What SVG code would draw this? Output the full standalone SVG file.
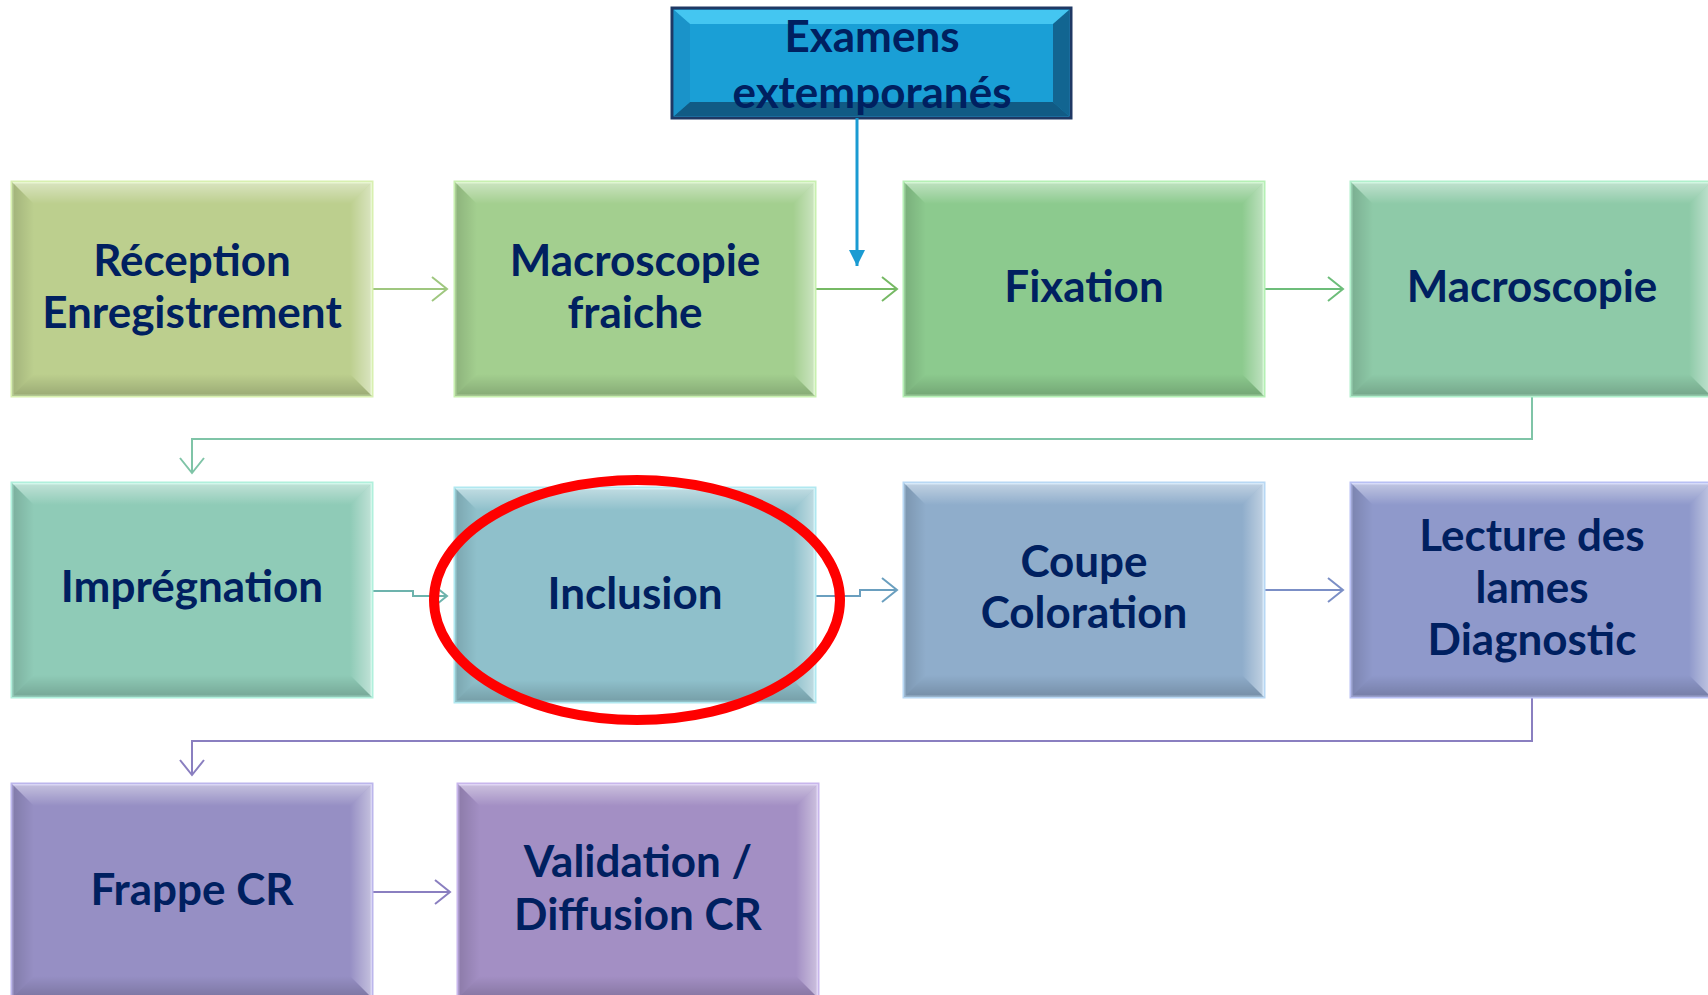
<svg xmlns="http://www.w3.org/2000/svg" width="1708" height="995" viewBox="0 0 1708 995">
<style>
.t{font-family:"Lato","Open Sans",sans-serif;font-weight:700;font-size:44px;fill:#002060;text-anchor:middle}
.box{stroke-width:3}
.c{fill:none;stroke-width:2}
</style>
<defs>
<linearGradient id="gT" x1="0" y1="0" x2="0" y2="1"><stop offset="0" stop-color="#fff" stop-opacity="0.45"/><stop offset="1" stop-color="#fff" stop-opacity="0"/></linearGradient>
<linearGradient id="gR" x1="1" y1="0" x2="0" y2="0"><stop offset="0" stop-color="#fff" stop-opacity="0.45"/><stop offset="1" stop-color="#fff" stop-opacity="0"/></linearGradient>
<linearGradient id="gB" x1="0" y1="1" x2="0" y2="0"><stop offset="0" stop-color="#000" stop-opacity="0.18"/><stop offset="1" stop-color="#000" stop-opacity="0"/></linearGradient>
<linearGradient id="gL" x1="0" y1="0" x2="1" y2="0"><stop offset="0" stop-color="#000" stop-opacity="0.14"/><stop offset="1" stop-color="#000" stop-opacity="0"/></linearGradient>
<g id="bevel">
<polygon points="0,0 360,0 338,22 22,22" fill="url(#gT)"/>
<polygon points="360,0 360,214 338,192 338,22" fill="url(#gR)"/>
<polygon points="0,214 360,214 338,192 22,192" fill="url(#gB)"/>
<polygon points="0,0 0,214 22,192 22,22" fill="url(#gL)"/>
</g>
<marker id="aG1" markerUnits="userSpaceOnUse" markerWidth="20" markerHeight="28" refX="18" refY="14" orient="auto"><path d="M3,2 L18,14 L3,26" fill="none" stroke="#9fc77f" stroke-width="2"/></marker>
<marker id="aG2" markerUnits="userSpaceOnUse" markerWidth="20" markerHeight="28" refX="18" refY="14" orient="auto"><path d="M3,2 L18,14 L3,26" fill="none" stroke="#76b964" stroke-width="2"/></marker>
<marker id="aG3" markerUnits="userSpaceOnUse" markerWidth="20" markerHeight="28" refX="18" refY="14" orient="auto"><path d="M3,2 L18,14 L3,26" fill="none" stroke="#6dbd7a" stroke-width="2"/></marker>
<marker id="aG4" markerUnits="userSpaceOnUse" markerWidth="20" markerHeight="28" refX="18" refY="14" orient="auto"><path d="M3,2 L18,14 L3,26" fill="none" stroke="#7fc4a7" stroke-width="2"/></marker>
<marker id="aT1" markerUnits="userSpaceOnUse" markerWidth="20" markerHeight="28" refX="18" refY="14" orient="auto"><path d="M3,2 L18,14 L3,26" fill="none" stroke="#6db3ad" stroke-width="2"/></marker>
<marker id="aT2" markerUnits="userSpaceOnUse" markerWidth="20" markerHeight="28" refX="18" refY="14" orient="auto"><path d="M3,2 L18,14 L3,26" fill="none" stroke="#6a9fbf" stroke-width="2"/></marker>
<marker id="aT3" markerUnits="userSpaceOnUse" markerWidth="20" markerHeight="28" refX="18" refY="14" orient="auto"><path d="M3,2 L18,14 L3,26" fill="none" stroke="#7b8fc6" stroke-width="2"/></marker>
<marker id="aP1" markerUnits="userSpaceOnUse" markerWidth="20" markerHeight="28" refX="18" refY="14" orient="auto"><path d="M3,2 L18,14 L3,26" fill="none" stroke="#8a7fc0" stroke-width="2"/></marker>
<marker id="aBl" markerUnits="userSpaceOnUse" markerWidth="18" markerHeight="18" refX="16" refY="8" orient="auto"><path d="M0,0 L16,8 L0,16 Z" fill="#1a9bd2"/></marker>
</defs>

<g id="connectors">
<path class="c" d="M372,289 H447" stroke="#9fc77f" marker-end="url(#aG1)"/>
<path class="c" d="M816,289 H897" stroke="#76b964" marker-end="url(#aG2)"/>
<path class="c" d="M1264,289 H1343" stroke="#6dbd7a" marker-end="url(#aG3)"/>
<path class="c" d="M1532,397 V439 H192 V473" stroke="#7fc4a7" marker-end="url(#aG4)"/>
<path class="c" d="M372,591 H413 V596 H447" stroke="#6db3ad" marker-end="url(#aT1)"/>
<path class="c" d="M816,596 H860 V590 H897" stroke="#6a9fbf" marker-end="url(#aT2)"/>
<path class="c" d="M1264,590 H1343" stroke="#7b8fc6" marker-end="url(#aT3)"/>
<path class="c" d="M1532,696 V741 H192 V775" stroke="#8a7fc0" marker-end="url(#aP1)"/>
<path class="c" d="M373,892 H450" stroke="#8a7fc0" marker-end="url(#aP1)"/>
</g>

<g id="n-examens">
<rect x="672" y="8" width="399" height="110" fill="#1a9fd6" stroke="#1f3864" stroke-width="3"/>
<polygon points="674,10 1069,10 1053,24 690,24" fill="#4fd0f8" opacity="0.8"/>
<polygon points="1069,10 1069,116 1053,102 1053,24" fill="#0e3f63" opacity="0.6"/>
<polygon points="674,116 1069,116 1053,102 690,102" fill="#0e3f63" opacity="0.7"/>
<polygon points="674,10 674,116 690,102 690,24" fill="#1a8cc0" opacity="0.6"/>
<text class="t" x="872" y="52">Examens</text>
<text class="t" x="872" y="108">extemporanés</text>
</g>
<path id="c-examens" d="M857,118 V266" fill="none" stroke="#1a9bd2" stroke-width="3" marker-end="url(#aBl)"/>

<g id="n-reception">
<rect class="box" x="12" y="182" width="360" height="214" fill="#bccf8e" stroke="#d8f0b0"/>
<use href="#bevel" x="12" y="182"/>
<text class="t" x="192" y="276">Réception</text>
<text class="t" x="192" y="328">Enregistrement</text>
</g>
<g id="n-macrofraiche">
<rect class="box" x="455" y="182" width="360" height="214" fill="#a3cf8f" stroke="#c8f0b0"/>
<use href="#bevel" x="455" y="182"/>
<text class="t" x="635" y="276">Macroscopie</text>
<text class="t" x="635" y="328">fraiche</text>
</g>
<g id="n-fixation">
<rect class="box" x="904" y="182" width="360" height="214" fill="#8cca8e" stroke="#b5f0b5"/>
<use href="#bevel" x="904" y="182"/>
<text class="t" x="1084" y="302">Fixation</text>
</g>
<g id="n-macroscopie">
<rect class="box" x="1351" y="182" width="360" height="214" fill="#8ecaa8" stroke="#b0f0cc"/>
<use href="#bevel" x="1351" y="182"/>
<text class="t" x="1532" y="302">Macroscopie</text>
</g>

<g id="n-impregnation">
<rect class="box" x="12" y="483" width="360" height="214" fill="#8fcbb7" stroke="#b0f0dc"/>
<use href="#bevel" x="12" y="483"/>
<text class="t" x="192" y="602">Imprégnation</text>
</g>
<g id="n-inclusion">
<rect class="box" x="455" y="488" width="360" height="214" fill="#8fc0cb" stroke="#b0e8f0"/>
<use href="#bevel" x="455" y="488"/>
<text class="t" x="635" y="609">Inclusion</text>
</g>
<g id="n-coupe">
<rect class="box" x="904" y="483" width="360" height="214" fill="#8fadcb" stroke="#b8d8f4"/>
<use href="#bevel" x="904" y="483"/>
<text class="t" x="1084" y="577">Coupe</text>
<text class="t" x="1084" y="628">Coloration</text>
</g>
<g id="n-lecture">
<rect class="box" x="1351" y="483" width="360" height="214" fill="#8f99cb" stroke="#b8c0f4"/>
<use href="#bevel" x="1351" y="483"/>
<text class="t" x="1532" y="551">Lecture des</text>
<text class="t" x="1532" y="603">lames</text>
<text class="t" x="1532" y="655">Diagnostic</text>
</g>

<g id="n-frappe">
<rect class="box" x="12" y="784" width="360" height="214" fill="#968fc4" stroke="#bcb6ec"/>
<use href="#bevel" x="12" y="784"/>
<text class="t" x="192" y="905">Frappe CR</text>
</g>
<g id="n-validation">
<rect class="box" x="458" y="784" width="360" height="214" fill="#a38fc4" stroke="#c8b6ec"/>
<use href="#bevel" x="458" y="784"/>
<text class="t" x="638" y="877">Validation /</text>
<text class="t" x="638" y="930">Diffusion CR</text>
</g>

<ellipse id="highlight" cx="637" cy="600" rx="203" ry="120" fill="none" stroke="#ff0000" stroke-width="10"/>
</svg>
